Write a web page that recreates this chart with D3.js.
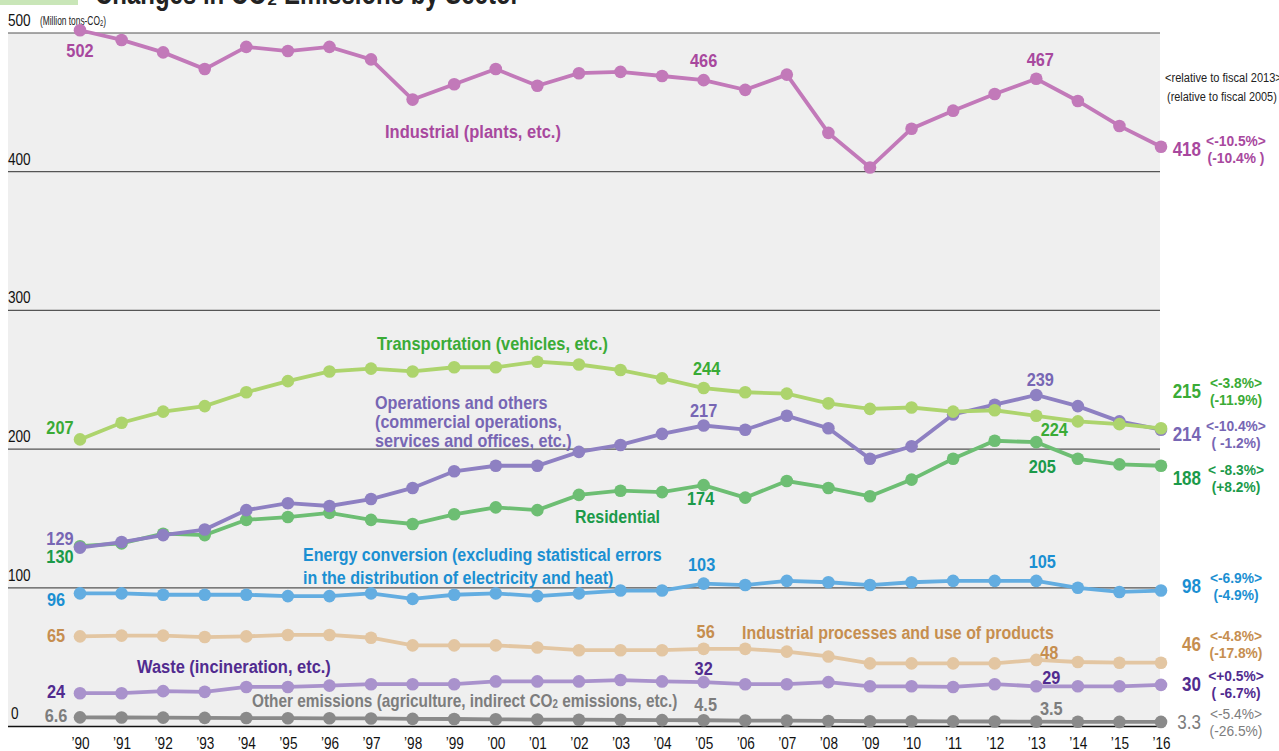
<!DOCTYPE html>
<html><head><meta charset="utf-8">
<script src="https://cdn.jsdelivr.net/npm/d3@7/dist/d3.min.js"></script>
<style>
body{margin:0;background:#fff;}
svg{display:block;}
text{font-family:"Liberation Sans",Arial,sans-serif;}
</style></head><body>
<svg id="c" width="1279" height="751"></svg>
<script>
const years = ["'90","'91","'92","'93","'94","'95","'96","'97","'98","'99","'00","'01","'02","'03","'04","'05","'06","'07","'08","'09","'10","'11","'12","'13","'14","'15","'16"].map(s=>s.replace("'","\u2019"));
const industrial = [502,495,486,474,490,487,490,481,452,463,474,462,471,472,469,466,459,470,428,403,431,444,456,467,451,433,418];
const transport = [207,219,227,231,241,249,256,258,256,259,259,263,261,257,251,244,241,240,233,229,230,227,228,224,220,218,215];
const operations = [129,133,138,142,156,161,159,164,172,184,188,188,198,203,211,217,214,224,215,193,202,225,232,239,231,220,214];
const residential = [130,132,139,138,149,151,154,149,146,153,158,156,167,170,169,174,165,177,172,166,178,193,206,205,193,189,188];
const energy = [96,96,95,95,95,94,94,96,92,95,96,94,96,98,98,103,102,105,104,102,104,105,105,105,100,97,98];
const processes = [65,65.5,65.5,64.5,65,66,66,64,58.5,58.5,58.5,57,55,55,55,56,56,54,50.5,45.5,45.5,45.5,45.5,48,46.5,46,46];
const waste = [24,24,25.5,25,28.5,28.5,29.5,30.5,30.5,30.5,32.5,32.5,32.5,33.5,32.5,32,30.5,30.5,32,29,29,28.5,30.5,29,29,29,30];
const other = [6.6,6.5,6.4,6.2,6.1,6.0,5.9,5.8,5.5,5.4,5.2,5.0,4.9,4.8,4.6,4.5,4.3,4.2,4.0,3.8,3.8,3.7,3.6,3.5,3.4,3.3,3.3];
const yTicks = [0,100,200,300,400,500];

const series = [
  {key:"industrial", data:industrial, line:"#c279b9", text:"#a8489e", last:"418", p1:"<-10.5%>", p2:"(-10.4% )"},
  {key:"transport", data:transport, line:"#add46d", text:"#3aab36", last:"215", p1:"<-3.8%>", p2:"(-11.9%)"},
  {key:"operations", data:operations, line:"#8e80c2", text:"#7766b4", last:"214", p1:"<-10.4%>", p2:"( -1.2%)"},
  {key:"residential", data:residential, line:"#6dbe73", text:"#1b9a4a", last:"188", p1:"< -8.3%>", p2:"(+8.2%)"},
  {key:"energy", data:energy, line:"#63ade1", text:"#1b8fd2", last:"98", p1:"<-6.9%>", p2:"(-4.9%)"},
  {key:"processes", data:processes, line:"#e3c6a2", text:"#c68e4f", last:"46", p1:"<-4.8%>", p2:"(-17.8%)"},
  {key:"waste", data:waste, line:"#a992cc", text:"#512b8f", last:"30", p1:"<+0.5%>", p2:"( -6.7%)"},
  {key:"other", data:other, line:"#8a8a8a", text:"#7d7d7d", last:"3.3", p1:"<-5.4%>", p2:"(-26.5%)"}
];

const svg = d3.select("#c");
const x = d3.scalePoint().domain(years).range([80,1161]);
const y = d3.scaleLinear().domain([0,500]).range([726.5,33]);

// horizontal condensing of a text element around its x anchor
function cond(sel, k){
  sel.each(function(){
    const ax = +this.getAttribute("x") || 0;
    const prev = this.getAttribute("transform") || "";
    this.setAttribute("transform", prev + ` translate(${ax},0) scale(${k},1) translate(${-ax},0)`);
  });
  return sel;
}
// condense a text so that its widest line reaches a target width
function fitW(sel, w){
  const n = sel.node();
  let m = 0;
  const ts = n.querySelectorAll("tspan[x]");
  if (ts.length) ts.forEach(t=>{ m = Math.max(m, t.getComputedTextLength()); });
  else m = n.getComputedTextLength();
  return cond(sel, w/m);
}

// title fragment (cut off at top)
svg.append("rect").attr("x",0).attr("y",-20).attr("width",78).attr("height",25).attr("fill","#c9e6b8");
fitW(svg.append("text").attr("x",95).attr("y",4).attr("font-size",32).attr("font-weight","bold").attr("fill","#222").text("Changes in CO\u2082 Emissions by Sector"), 425);

svg.append("rect").attr("x",8).attr("y",y(500)).attr("width",1152).attr("height",y(0)-y(500)).attr("fill","#efefef");

// gridlines
svg.selectAll("line.grid").data(yTicks).join("line")
  .attr("x1",8).attr("x2",1160)
  .attr("y1",d=>y(d)).attr("y2",d=>y(d))
  .attr("stroke",d=>d===0?"#111":"#555").attr("stroke-width",d=>d===0?1.6:1.2);

// tick labels
cond(svg.selectAll("text.yt").data(yTicks).join("text")
  .attr("x",d=>d===0?11:8).attr("y",d=>y(d)-7).attr("font-size",16).attr("fill","#111").text(d=>d), 0.85);
fitW(svg.append("text").attr("x",40).attr("y",y(500)-8).attr("font-size",13).attr("fill","#222")
  .html('(Million tons-CO<tspan font-size="9" dy="1">2</tspan><tspan dy="-1">)</tspan>'), 66);

// x-axis
const xa = svg.append("g").attr("transform",`translate(0,${y(0)})`).call(d3.axisBottom(x).tickSize(0).tickPadding(11));
xa.select(".domain").remove();
cond(xa.selectAll("text").attr("font-size",16).attr("fill","#111").attr("font-family",'"Liberation Sans",sans-serif'), 0.85);

// lines & points
const lineGen = d3.line().x((d,i)=>x(years[i])).y(d=>y(d));
series.slice().reverse().forEach(s=>{
  const g = svg.append("g");
  g.append("path").attr("d",lineGen(s.data)).attr("fill","none").attr("stroke",s.line).attr("stroke-width",3.8);
  g.selectAll("circle").data(s.data).join("circle").attr("cx",(d,i)=>x(years[i])).attr("cy",d=>y(d)).attr("r",6.3).attr("fill",s.line);
});

// right end labels
const rightY = {industrial:149, transport:391, operations:434, residential:478, energy:586, processes:644, waste:684, other:722};
series.forEach(s=>{
  const yy = rightY[s.key];
  const bold = s.key==="other" ? "normal":"bold";
  cond(svg.append("text").attr("x",1201).attr("y",yy+7).attr("text-anchor","end").attr("font-size",20).attr("font-weight",bold).attr("fill",s.text).text(s.last), 0.85);
  cond(svg.append("text").attr("x",1236).attr("y",yy-3).attr("text-anchor","middle").attr("font-size",15).attr("font-weight",bold).attr("fill",s.text).text(s.p1), 0.92);
  cond(svg.append("text").attr("x",1236).attr("y",yy+14).attr("text-anchor","middle").attr("font-size",15).attr("font-weight",bold).attr("fill",s.text).text(s.p2), 0.92);
});
fitW(svg.append("text").attr("x",1165).attr("y",82).attr("font-size",13.5).attr("fill","#222").text("<relative to fiscal 2013>"), 117);
fitW(svg.append("text").attr("x",1167).attr("y",101).attr("font-size",13.5).attr("fill","#222").text("(relative to fiscal 2005)"), 110);

// value labels: [series, year index, dx, dy, text]
const S = k=>series.find(s=>s.key===k);
const valueLabels = [
  ["industrial",0,0,27,"502"],["industrial",15,0,-13,"466"],["industrial",23,4,-13,"467"],
  ["transport",0,-20,-5,"207"],["transport",15,3,-13,"244"],["transport",23,18,20,"224"],
  ["operations",0,-20,-3,"129"],["operations",15,0,-9,"217"],["operations",23,4,-9,"239"],
  ["residential",0,-20,17,"130"],["residential",15,-3,20,"174"],["residential",23,6,31,"205"],
  ["energy",0,-24,13,"96"],["energy",15,-2,-13,"103"],["energy",23,6,-13,"105"],
  ["processes",0,-24,6,"65"],["processes",15,2,-11,"56"],["processes",23,13,-1,"48"],
  ["waste",0,-24,5,"24"],["waste",15,0,-7,"32"],["waste",23,15,-2,"29"],
  ["other",0,-24,5,"6.6"],["other",15,2,-9,"4.5"],["other",23,15,-7,"3.5"]
];
valueLabels.forEach(([k,i,dx,dy,t])=>{
  const s=S(k);
  const c = (k==="transport") ? "#3aab36" : s.text;
  cond(svg.append("text").attr("x",x(years[i])+dx).attr("y",y(s.data[i])+dy).attr("text-anchor","middle")
    .attr("font-size",19).attr("font-weight","bold").attr("fill",c).text(t), 0.86);
});

// series names: [series, x, y, lines, width of the widest line]
const names = [
  ["industrial",385,138,["Industrial (plants, etc.)"],176],
  ["transport",377,350,["Transportation (vehicles, etc.)"],231],
  ["operations",375,409,["Operations and others","(commercial operations,","services and offices, etc.)"],197],
  ["residential",575,523,["Residential"],85],
  ["energy",303,561,["Energy conversion (excluding statistical errors","in the distribution of electricity and heat)"],359],
  ["processes",742,639,["Industrial processes and use of products"],312],
  ["waste",137,673,["Waste (incineration, etc.)"],194]
];
names.forEach(([k,nx,ny,lines,w])=>{
  const t = svg.append("text").attr("x",nx).attr("y",ny).attr("font-size",19).attr("font-weight","bold").attr("fill",S(k).text);
  lines.forEach((l,j)=>t.append("tspan").attr("x",nx).attr("dy",j?(k==="energy"?23:19):0).text(l));
  fitW(t, w);
});
fitW(svg.append("text").attr("x",252).attr("y",707).attr("font-size",19).attr("font-weight","bold").attr("fill","#7d7d7d")
  .html('Other emissions (agriculture, indirect CO<tspan font-size="12" dy="1">2</tspan><tspan dy="-1"> emissions, etc.)</tspan>'), 426);
</script>
</body></html>
